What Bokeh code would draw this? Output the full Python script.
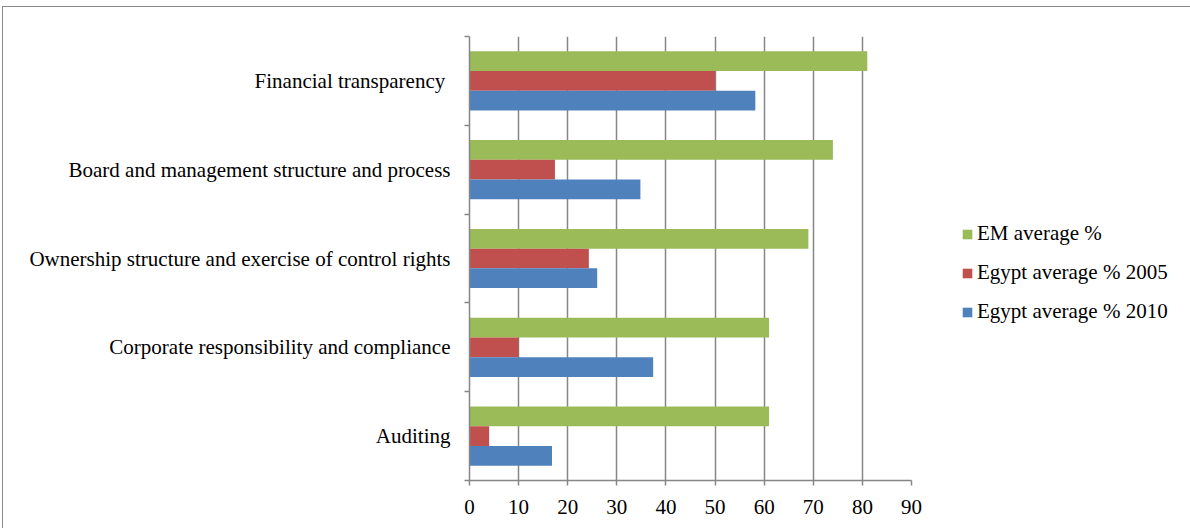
from bokeh.plotting import figure
from bokeh.models import ColumnDataSource, Range1d, FixedTicker, Legend, LegendItem
from bokeh.transform import dodge
from bokeh.embed import file_html
from bokeh.resources import INLINE

categories = [
    "Financial transparency ",
    "Board and management structure and process",
    "Ownership structure and exercise of control rights",
    "Corporate responsibility and compliance",
    "Auditing",
]
em_average = [81, 74, 69, 61, 61]
egypt_2005 = [50, 17.4, 24.3, 10, 4]
egypt_2010 = [58.2, 34.8, 26, 37.4, 16.8]
series_names = ["EM average %", "Egypt average % 2005", "Egypt average % 2010"]
x_ticks = [0, 10, 20, 30, 40, 50, 60, 70, 80, 90]

colors = ["#9BBB59", "#C0504D", "#4F81BD"]
FONT = "'Liberation Serif'"
GRAY = "#868686"

n = len(categories)
pos = [i + 0.5 for i in range(n)]
source = ColumnDataSource(dict(
    y=pos, em=em_average, e05=egypt_2005, e10=egypt_2010,
))

p = figure(
    output_backend="svg", toolbar_location=None,
    frame_width=442, frame_height=444,
    x_range=Range1d(0, 90), y_range=Range1d(n, 0),
    min_border_left=466, min_border_right=278,
    min_border_top=29, min_border_bottom=48,
)
p.styles = {
    "margin-left": "2px", "margin-top": "6px",
    "border-left": "1px solid #8a8a8a", "border-top": "1px solid #8a8a8a",
}
p.outline_line_color = None
p.background_fill_color = "white"
p.border_fill_color = "white"

bar_h = 1 / 4.5
renderers = []
for field, off, col in zip(["em", "e05", "e10"], [-bar_h, 0, bar_h], colors):
    r = p.hbar(y=dodge("y", off, range=p.y_range), right=field, left=0,
               height=bar_h, source=source, fill_color=col, line_color=None)
    renderers.append(r)

# x axis
xa = p.xaxis[0]
xa.ticker = FixedTicker(ticks=x_ticks)
xa.axis_line_color = GRAY
xa.axis_line_width = 1.5
xa.major_tick_line_color = GRAY
xa.major_tick_line_width = 1.5
xa.major_tick_out = 5
xa.major_tick_in = 0
xa.minor_tick_line_color = None
xa.major_label_text_font = FONT
xa.major_label_text_font_size = "21px"
xa.major_label_text_color = "black"
xa.major_label_standoff = 14

# y axis
ya = p.yaxis[0]
ya.ticker = FixedTicker(ticks=pos, minor_ticks=list(range(n + 1)))
ya.major_label_overrides = {pv: c for pv, c in zip(pos, categories)}
ya.axis_line_color = GRAY
ya.axis_line_width = 1.5
ya.major_tick_line_color = None
ya.major_tick_out = 0
ya.major_tick_in = 0
ya.minor_tick_line_color = GRAY
ya.minor_tick_line_width = 1.5
ya.minor_tick_out = 5
ya.minor_tick_in = 0
ya.major_label_text_font = FONT
ya.major_label_text_font_size = "21px"
ya.major_label_text_color = "black"
ya.major_label_standoff = 14

p.xgrid.grid_line_color = GRAY
p.xgrid.grid_line_width = 1.5
p.xgrid.ticker = FixedTicker(ticks=x_ticks)
p.ygrid.grid_line_color = None

legend = Legend(
    items=[LegendItem(label=nm, renderers=[r]) for nm, r in zip(series_names, renderers)],
    location=(50, 156),
    margin=0, padding=0, spacing=14,
    glyph_width=12, glyph_height=12, label_standoff=4,
    label_text_font=FONT, label_text_font_size="21px", label_text_color="black",
    border_line_color=None, background_fill_alpha=0,
)
p.add_layout(legend, "right")

open("out.html", "w").write(file_html(p, INLINE))
